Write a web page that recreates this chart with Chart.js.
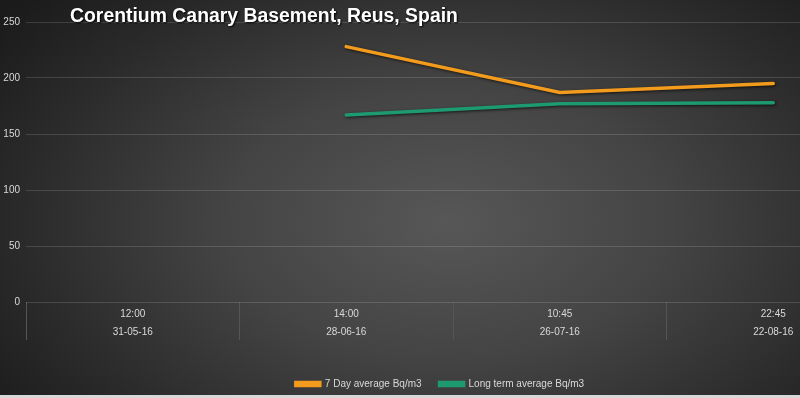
<!DOCTYPE html>
<html>
<head>
<meta charset="utf-8">
<script src="https://cdn.jsdelivr.net/npm/chart.js@4"></script>
<style>
    html, body { margin: 0; padding: 0; width: 800px; height: 398px; overflow: hidden; }
    body {
        background: radial-gradient(ellipse 70% 85% at 56% 56%, #575757 0%, #444444 40%, #2b2b2b 75%, #1b1b1b 100%);
        position: relative;
    }
    #wrap { position: absolute; left: 0; top: 0; width: 880px; height: 399px; }
    #title {
        position: absolute; left: 70px; top: 4px;
        font-family: "Liberation Sans", Arial, sans-serif; font-weight: bold;
        font-size: 19.4px; color: #ffffff;
        text-shadow: 1px 1px 2px #000;
    }
    #strip { position: absolute; left: 0; top: 395px; width: 800px; height: 3px; background: #d8d8d8; }
</style>
</head>
<body>
<div id="wrap"><canvas id="chart" width="880" height="399"></canvas></div>
<div id="title">Corentium Canary Basement, Reus, Spain</div>
<div id="strip"></div>
<script>
document.addEventListener('DOMContentLoaded', () => {
    // Datos
    const timeLabels = ['12:00', '14:00', '10:45', '22:45'];
    const dateLabels = ['31-05-16', '28-06-16', '26-07-16', '22-08-16'];
    const sevenDayAvg = [null, 228, 187, 195];
    const longTermAvg = [null, 167, 177, 178];
    const yTicks = [0, 50, 100, 150, 200, 250];

    const labels = timeLabels.map((t, i) => [t, dateLabels[i]]);
    const font = 'Liberation Sans';

    // sombra oscura alrededor de las líneas
    const lineShadow = {
        id: 'lineShadow',
        beforeDatasetsDraw(chart) {
            const c = chart.ctx;
            c.save();
            c.shadowColor = 'rgba(0,0,0,0.7)';
            c.shadowBlur = 3;
            c.shadowOffsetX = 1;
            c.shadowOffsetY = 1;
        },
        afterDatasetsDraw(chart) {
            chart.ctx.restore();
        }
    };

    const ctx = document.getElementById('chart').getContext('2d');
    new Chart(ctx, {
        type: 'line',
        data: {
            labels: labels,
            datasets: [
                {
                    label: '7 Day average Bq/m3',
                    data: sevenDayAvg,
                    borderColor: '#f29b1d',
                    backgroundColor: '#f29b1d',
                    borderWidth: 3.5,
                    pointRadius: 0,
                    tension: 0,
                    borderCapStyle: 'round'
                },
                {
                    label: 'Long term average Bq/m3',
                    data: longTermAvg,
                    borderColor: '#1e9a72',
                    backgroundColor: '#1e9a72',
                    borderWidth: 3.5,
                    pointRadius: 0,
                    tension: 0,
                    borderCapStyle: 'round'
                }
            ]
        },
        plugins: [lineShadow],
        options: {
            responsive: false,
            animation: false,
            layout: { padding: { top: 22, left: 0, right: 0, bottom: 0 } },
            plugins: {
                legend: {
                    position: 'bottom',
                    labels: {
                        color: '#d9d9d9',
                        font: { family: font, size: 10 },
                        boxWidth: 24,
                        boxHeight: 3,
                        padding: 18
                    }
                },
                tooltip: { enabled: false }
            },
            scales: {
                x: {
                    offset: true,
                    grid: {
                        offset: true,
                        drawOnChartArea: false,
                        drawTicks: true,
                        tickLength: 38,
                        color: '#555555'
                    },
                    border: { display: false },
                    ticks: {
                        color: '#d9d9d9',
                        font: { family: font, size: 10, lineHeight: 1.8 },
                        padding: -35,
                        maxRotation: 0
                    },
                    afterFit: (scale) => { scale.height = 59; }
                },
                y: {
                    min: 0,
                    max: 250,
                    afterBuildTicks: (scale) => { scale.ticks = yTicks.map(v => ({ value: v })); },
                    grid: {
                        color: 'rgba(255,255,255,0.14)',
                        lineWidth: 1,
                        drawTicks: false
                    },
                    border: { display: false },
                    ticks: {
                        color: '#d9d9d9',
                        font: { family: font, size: 10 },
                        padding: 6
                    },
                    afterFit: (scale) => { scale.width = 26; }
                }
            }
        }
    });
});
</script>
</body>
</html>
